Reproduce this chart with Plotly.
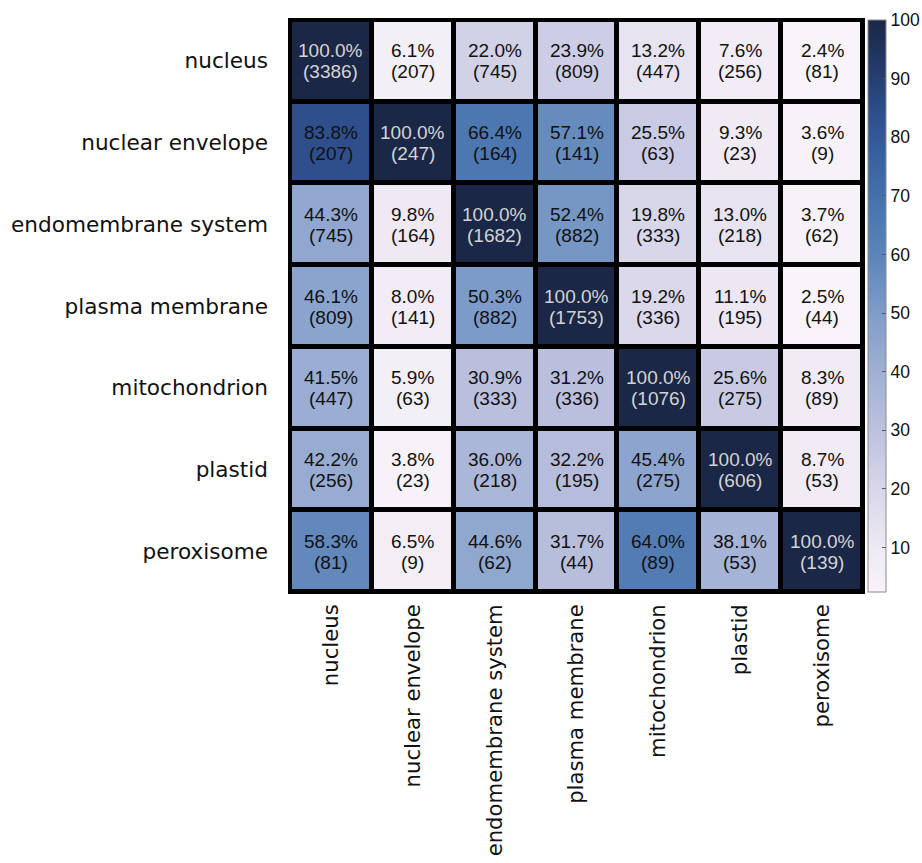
import plotly.graph_objects as go

compartments = ["nucleus", "nuclear envelope", "endomembrane system",
                "plasma membrane", "mitochondrion", "plastid", "peroxisome"]

# shared-protein counts between compartments (diagonal = compartment size)
counts = [
    [3386, 207, 745, 809, 447, 256, 81],
    [207, 247, 164, 141, 63, 23, 9],
    [745, 164, 1682, 882, 333, 218, 62],
    [809, 141, 882, 1753, 336, 195, 44],
    [447, 63, 333, 336, 1076, 275, 89],
    [256, 23, 218, 195, 275, 606, 53],
    [81, 9, 62, 44, 89, 53, 139],
]

# row-normalised overlap, in percent
percent = [
    [100.0, 6.1, 22.0, 23.9, 13.2, 7.6, 2.4],
    [83.8, 100.0, 66.4, 57.1, 25.5, 9.3, 3.6],
    [44.3, 9.8, 100.0, 52.4, 19.8, 13.0, 3.7],
    [46.1, 8.0, 50.3, 100.0, 19.2, 11.1, 2.5],
    [41.5, 5.9, 30.9, 31.2, 100.0, 25.6, 8.3],
    [42.2, 3.8, 36.0, 32.2, 45.4, 100.0, 8.7],
    [58.3, 6.5, 44.6, 31.7, 64.0, 38.1, 100.0],
]

colorbar_ticks = [10, 20, 30, 40, 50, 60, 70, 80, 90, 100]

zmin, zmax = 2.4, 100.0
stops = [
    (2.4, "#f8f4f9"), (10, "#eee9f3"), (20, "#d8d6e9"), (30, "#bcc1de"),
    (40, "#9fb0d4"), (50, "#7e9cc8"), (60, "#5c84b9"), (70, "#4570ad"),
    (80, "#33599a"), (90, "#253f72"), (100, "#1b2746"),
]
colorscale = [[(v - zmin) / (zmax - zmin), c] for v, c in stops]

W, H = 922, 863
L, R, T, B = 290, 59, 20, 271

fig = go.Figure()
fig.add_trace(go.Heatmap(
    z=percent, x=compartments, y=compartments,
    zmin=zmin, zmax=zmax, colorscale=colorscale,
    xgap=5, ygap=5, hoverinfo="skip",
    colorbar=dict(
        x=1.009, xanchor="left", xpad=0,
        y=0.5, yanchor="middle", ypad=0,
        thickness=18, lenmode="fraction", len=1.0,
        outlinewidth=1, outlinecolor="#8a8a8a",
        tickvals=colorbar_ticks, ticks="inside", ticklen=4,
        tickcolor="#555555", tickwidth=1,
        tickfont=dict(family="Liberation Sans", size=17.5, color="#111111"),
    ),
))

annotations = []
for i, row in enumerate(compartments):
    for j, col in enumerate(compartments):
        p = percent[i][j]
        color = "#d4d4d4" if p >= 95 else "#111111"
        font = dict(family="Liberation Sans", size=19, color=color)
        annotations.append(dict(x=col, y=row, text=f"{p:.1f}%", showarrow=False,
                                font=font, yshift=10, xref="x", yref="y"))
        annotations.append(dict(x=col, y=row, text=f"({counts[i][j]})", showarrow=False,
                                font=font, yshift=-11, xref="x", yref="y"))

fig.update_layout(
    width=W, height=H,
    margin=dict(l=L, r=R, t=T, b=B, pad=0, autoexpand=False),
    paper_bgcolor="white", plot_bgcolor="black",
    annotations=annotations,
    shapes=[dict(type="rect", xref="paper", yref="paper", x0=0, y0=0, x1=1, y1=1,
                 line=dict(color="black", width=4))],
    xaxis=dict(side="bottom", tickangle=-90, ticks="", showgrid=False, zeroline=False,
               automargin=False, ticklabelstandoff=7,
               tickfont=dict(family="DejaVu Sans", size=21.2, color="#111111")),
    yaxis=dict(autorange="reversed", ticks="", showgrid=False, zeroline=False,
               automargin=False, ticklabelstandoff=21,
               tickfont=dict(family="DejaVu Sans", size=21.6, color="#111111")),
)

fig.write_html("out.html")
